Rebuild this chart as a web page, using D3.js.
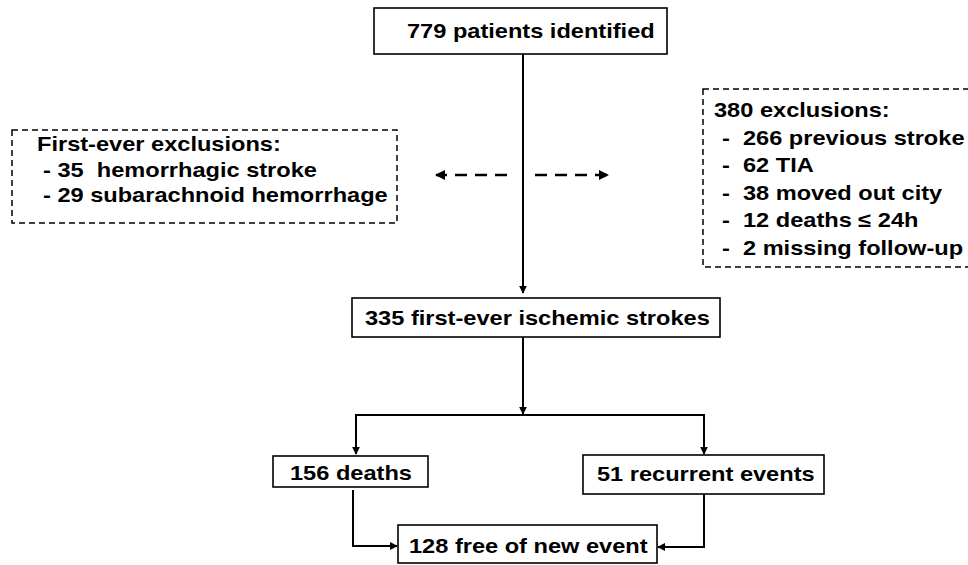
<!DOCTYPE html>
<html>
<head>
<meta charset="utf-8">
<script src="https://cdn.jsdelivr.net/npm/d3@7"></script>
<style>
	body { margin: 0; background: #fff; }
	svg text { font-family: "Liberation Sans", Arial, sans-serif; font-weight: bold; font-size: 20px; white-space: pre; }
</style>
</head>
<body>
<svg id="flow" width="968" height="565"></svg>
<script>
// flow chart values
const flowLabels = [
	'779 patients identified',
	'335 first-ever ischemic strokes',
	'156 deaths',
	'51 recurrent events',
	'128 free of new event'
];

const leftExclusions = [
	'First-ever exclusions:',
	'- 35  hemorrhagic stroke',
	'- 29 subarachnoid hemorrhage'
];

const rightExclusions = [
	'380 exclusions:',
	'-  266 previous stroke',
	'-  62 TIA',
	'-  38 moved out city',
	'-  12 deaths \u2264 24h',
	'-  2 missing follow-up'
];

// layout (boxes in px, text x / baseline)
const boxLayout = [
	{ x: 374, y: 8, w: 293, h: 46, tx: 407, ty: 38 },
	{ x: 352, y: 298, w: 368, h: 39, tx: 365, ty: 325 },
	{ x: 273, y: 456, w: 155, h: 31, tx: 290, ty: 480 },
	{ x: 583, y: 455, w: 241, h: 39, tx: 597, ty: 481 },
	{ x: 398, y: 525, w: 259, h: 38, tx: 409, ty: 553 }
];

const SX = 1.18; // the original figure is stretched horizontally

const svg = d3.select('#flow');

// arrow head
svg.append('defs').append('marker')
	.attr('id', 'head')
	.attr('viewBox', '0 0 10 10')
	.attr('refX', 9)
	.attr('refY', 5)
	.attr('markerWidth', 4)
	.attr('markerHeight', 4)
	.attr('markerUnits', 'strokeWidth')
	.attr('orient', 'auto')
	.append('path')
	.attr('d', 'M0,0 L10,5 L0,10 z')
	.attr('fill', '#000');

const line = d3.line();

const addText = (g, str, x, y) => g.append('text')
	.attr('transform', `translate(${x},${y}) scale(${SX},1)`)
	.text(str);

//-----------------------------
//    Solid boxes
//-----------------------------
const box = svg.selectAll('g.box')
	.data(flowLabels)
	.enter()
	.append('g').attr('class', 'box');

box.append('rect')
	.attr('x', (_, i) => boxLayout[i].x)
	.attr('y', (_, i) => boxLayout[i].y)
	.attr('width', (_, i) => boxLayout[i].w)
	.attr('height', (_, i) => boxLayout[i].h)
	.attr('fill', '#fff')
	.attr('stroke', '#000')
	.attr('stroke-width', 1.6);

box.each(function (d, i) {
	addText(d3.select(this), d, boxLayout[i].tx, boxLayout[i].ty);
});

//-----------------------------
//    Dashed exclusion boxes
//-----------------------------
const dashed = [
	{ lines: leftExclusions, x: 12, y: 130, w: 385, h: 93, tx: [37, 43], ty: 151, dy: 25.5 },
	{ lines: rightExclusions, x: 703, y: 89, w: 270, h: 178, tx: [714, 722], ty: 117, dy: 27.5 }
];

dashed.forEach(b => {
	const g = svg.append('g');
	g.append('rect')
		.attr('x', b.x).attr('y', b.y)
		.attr('width', b.w).attr('height', b.h)
		.attr('fill', 'none')
		.attr('stroke', '#000')
		.attr('stroke-width', 1.5)
		.attr('stroke-dasharray', '6,4');
	b.lines.forEach((s, i) => addText(g, s, i ? b.tx[1] : b.tx[0], b.ty + i * b.dy));
});

//-----------------------------
//    Connectors
//-----------------------------
const arrows = [
	[[523, 54], [523, 293]],
	[[523, 337], [523, 414]],
	[[356, 415], [356, 454]],
	[[704, 415], [704, 454]],
	[[353, 490], [353, 546], [397, 546]],
	[[704, 494], [704, 547], [658, 547]]
];

svg.selectAll('path.arrow')
	.data(arrows)
	.enter()
	.append('path')
	.attr('class', 'arrow')
	.attr('d', line)
	.attr('fill', 'none')
	.attr('stroke', '#000')
	.attr('stroke-width', 2)
	.attr('marker-end', 'url(#head)');

svg.append('path')
	.attr('d', line([[355, 415], [705, 415]]))
	.attr('stroke', '#000')
	.attr('stroke-width', 2);

// dashed side arrows
svg.selectAll('path.side')
	.data([[[507, 175], [436, 175]], [[535, 175], [608, 175]]])
	.enter()
	.append('path')
	.attr('class', 'side')
	.attr('d', line)
	.attr('fill', 'none')
	.attr('stroke', '#000')
	.attr('stroke-width', 2.5)
	.attr('stroke-dasharray', '12,8')
	.attr('marker-end', 'url(#head)');
</script>
</body>
</html>
